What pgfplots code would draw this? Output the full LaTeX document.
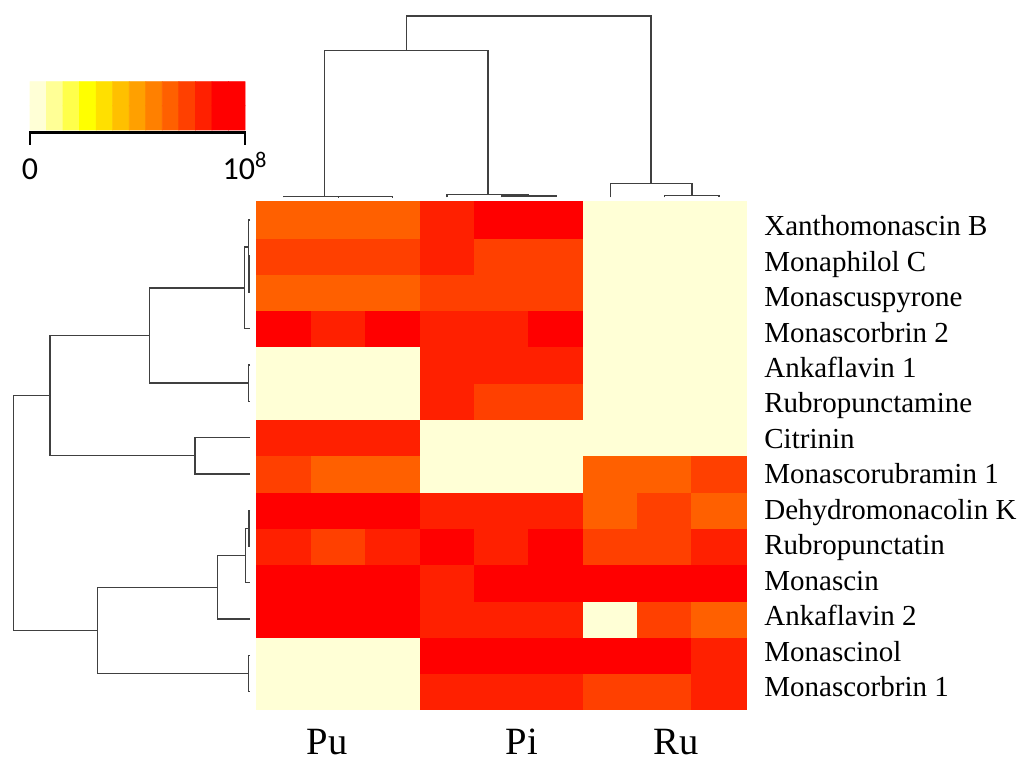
\documentclass[border=0pt]{standalone}
\usepackage{pgfplots}
\pgfplotsset{compat=1.18}
\usepackage{fontspec}
\setmainfont{Liberation Serif}
\newfontfamily\carlito{Carlito}
\definecolor{dendro}{RGB}{64,64,64}
\pgfplotsset{
  colormap={hm}{
    rgb255=(255,255,214) rgb255=(255,255,150) rgb255=(255,255,75)
    rgb255=(255,255,0) rgb255=(255,224,0) rgb255=(255,192,0)
    rgb255=(255,160,0) rgb255=(255,128,0) rgb255=(255,96,0)
    rgb255=(255,64,0) rgb255=(255,32,0) rgb255=(255,0,0)
  },
  dendro/.style={draw=dendro, line width=0.7pt, mark=none, forget plot},
}
\begin{document}
\begin{tikzpicture}
\begin{axis}[
  name=main,
  x=27.2pt, y=18.15pt,
  xmin=-0.5, xmax=8.5, ymin=-13.5, ymax=0.5,
  enlargelimits=false, clip=false,
  axis line style={draw=none}, tick style={draw=none}, major tick length=0pt,
  colormap name=hm, colormap access=direct,
  xtick={0.792,4.377,7.204},
  xticklabels={Pu,Pi,Ru},
  xticklabel style={font=\fontsize{19.3}{19.3}\selectfont, anchor=base, inner sep=0pt, yshift=-22.4pt},
  yticklabel pos=right,
  ytick={-13.1358,-12.1589,-11.1821,-10.2052,-9.2283,-8.2515,-7.2746,-6.2978,-5.3209,-4.3440,-3.3672,-2.3903,-1.4135,-0.4366},
  yticklabels={Monascorbrin 1,Monascinol,Ankaflavin 2,Monascin,Rubropunctatin,Dehydromonacolin K,Monascorubramin 1,Citrinin,Rubropunctamine,Ankaflavin 1,Monascorbrin 2,Monascuspyrone,Monaphilol C,Xanthomonascin B},
  yticklabel style={font=\fontsize{14.5}{14.5}\selectfont, anchor=base west, inner sep=0pt, xshift=8.85pt},
]
\addplot[matrix plot*, mesh/cols=9, point meta=explicit] table[meta=c] {
x y c
0 -13 0
1 -13 0
2 -13 0
3 -13 10
4 -13 10
5 -13 10
6 -13 9
7 -13 9
8 -13 10
0 -12 0
1 -12 0
2 -12 0
3 -12 11
4 -12 11
5 -12 11
6 -12 11
7 -12 11
8 -12 10
0 -11 11
1 -11 11
2 -11 11
3 -11 10
4 -11 10
5 -11 10
6 -11 0
7 -11 9
8 -11 8
0 -10 11
1 -10 11
2 -10 11
3 -10 10
4 -10 11
5 -10 11
6 -10 11
7 -10 11
8 -10 11
0 -9 10
1 -9 9
2 -9 10
3 -9 11
4 -9 10
5 -9 11
6 -9 9
7 -9 9
8 -9 10
0 -8 11
1 -8 11
2 -8 11
3 -8 10
4 -8 10
5 -8 10
6 -8 8
7 -8 9
8 -8 8
0 -7 9
1 -7 8
2 -7 8
3 -7 0
4 -7 0
5 -7 0
6 -7 8
7 -7 8
8 -7 9
0 -6 10
1 -6 10
2 -6 10
3 -6 0
4 -6 0
5 -6 0
6 -6 0
7 -6 0
8 -6 0
0 -5 0
1 -5 0
2 -5 0
3 -5 10
4 -5 9
5 -5 9
6 -5 0
7 -5 0
8 -5 0
0 -4 0
1 -4 0
2 -4 0
3 -4 10
4 -4 10
5 -4 10
6 -4 0
7 -4 0
8 -4 0
0 -3 11
1 -3 10
2 -3 11
3 -3 10
4 -3 10
5 -3 11
6 -3 0
7 -3 0
8 -3 0
0 -2 8
1 -2 8
2 -2 8
3 -2 9
4 -2 9
5 -2 9
6 -2 0
7 -2 0
8 -2 0
0 -1 9
1 -1 9
2 -1 9
3 -1 10
4 -1 9
5 -1 9
6 -1 0
7 -1 0
8 -1 0
0 0 8
1 0 8
2 0 8
3 0 10
4 0 11
5 0 11
6 0 0
7 0 0
8 0 0
};
% top dendrogram (columns)
\addplot[dendro] coordinates {(1,0.62)(1,0.64)(2,0.64)(2,0.62)};
\addplot[dendro] coordinates {(0,0.62)(0,0.65)(1.5,0.65)(1.5,0.64)};
\addplot[dendro] coordinates {(4,0.62)(4,0.66)(5,0.66)(5,0.62)};
\addplot[dendro] coordinates {(3,0.62)(3,0.69)(4.5,0.69)(4.5,0.66)};
\addplot[dendro] coordinates {(7,0.62)(7,0.676)(8,0.676)(8,0.62)};
\addplot[dendro] coordinates {(6,0.62)(6,0.996)(7.5,0.996)(7.5,0.676)};
\addplot[dendro] coordinates {(0.75,0.65)(0.75,4.66)(3.75,4.66)(3.75,0.69)};
\addplot[dendro] coordinates {(2.25,4.66)(2.25,5.616)(6.75,5.616)(6.75,0.996)};
% left dendrogram (rows)
\addplot[dendro] coordinates {(-0.62,-1)(-0.645,-1)(-0.645,-2)(-0.62,-2)};
\addplot[dendro] coordinates {(-0.62,0)(-0.656,0)(-0.656,-1.5)(-0.645,-1.5)};
\addplot[dendro] coordinates {(-0.656,-0.75)(-0.728,-0.75)(-0.728,-3)(-0.62,-3)};
\addplot[dendro] coordinates {(-0.62,-4)(-0.654,-4)(-0.654,-5)(-0.62,-5)};
\addplot[dendro] coordinates {(-0.728,-1.875)(-2.474,-1.875)(-2.474,-4.5)(-0.654,-4.5)};
\addplot[dendro] coordinates {(-0.62,-6)(-1.634,-6)(-1.634,-7)(-0.62,-7)};
\addplot[dendro] coordinates {(-2.474,-3.1875)(-4.30,-3.1875)(-4.30,-6.5)(-1.634,-6.5)};
\addplot[dendro] coordinates {(-0.62,-8)(-0.645,-8)(-0.645,-9)(-0.62,-9)};
\addplot[dendro] coordinates {(-0.645,-8.5)(-0.702,-8.5)(-0.702,-10)(-0.62,-10)};
\addplot[dendro] coordinates {(-0.702,-9.25)(-1.217,-9.25)(-1.217,-11)(-0.62,-11)};
\addplot[dendro] coordinates {(-0.62,-12)(-0.654,-12)(-0.654,-13)(-0.62,-13)};
\addplot[dendro] coordinates {(-1.217,-10.125)(-3.423,-10.125)(-3.423,-12.5)(-0.654,-12.5)};
\addplot[dendro] coordinates {(-4.30,-4.84375)(-4.974,-4.84375)(-4.974,-11.3125)(-3.423,-11.3125)};
\coordinate (cbSW) at (axis cs:-4.667,2.475);
\coordinate (bbA) at (axis cs:-5.219,6.056);
\coordinate (bbB) at (axis cs:13.697,-14.935);
\end{axis}
\begin{axis}[
  at={(cbSW)}, anchor=south west,
  x=8.27pt, y=12.075pt,
  xmin=-0.5, xmax=12.5, ymin=-0.5, ymax=1.5,
  enlargelimits=false, clip=false,
  axis line style={draw=none}, tick style={draw=none}, major tick length=0pt,
  colormap name=hm, colormap access=direct,
  ytick=\empty,
  xtick={-0.5,12.5},
  xticklabels={0,10\textsuperscript{8}},
  xticklabel style={font=\carlito\fontsize{16}{16}\selectfont, anchor=base, inner sep=0pt, yshift=-25pt},
]
\addplot[matrix plot*, mesh/cols=13, point meta=explicit] table[meta=c] {
x y c
0 0 0
1 0 1
2 0 2
3 0 3
4 0 4
5 0 5
6 0 6
7 0 7
8 0 8
9 0 9
10 0 10
11 0 11
12 0 11
0 1 0
1 1 1
2 1 2
3 1 3
4 1 4
5 1 5
6 1 6
7 1 7
8 1 8
9 1 9
10 1 10
11 1 11
12 1 11
};
\addplot[black, line width=1.5pt, mark=none] coordinates {(-0.55,-0.595)(12.55,-0.595)};
\addplot[black, line width=1pt, mark=none] coordinates {(-0.5,-0.6)(-0.5,-1.121)};
\addplot[black, line width=1pt, mark=none] coordinates {(12.5,-0.6)(12.5,-1.121)};
\end{axis}
\pgfresetboundingbox
\useasboundingbox (bbA) rectangle (bbB);
\end{tikzpicture}
\end{document}
